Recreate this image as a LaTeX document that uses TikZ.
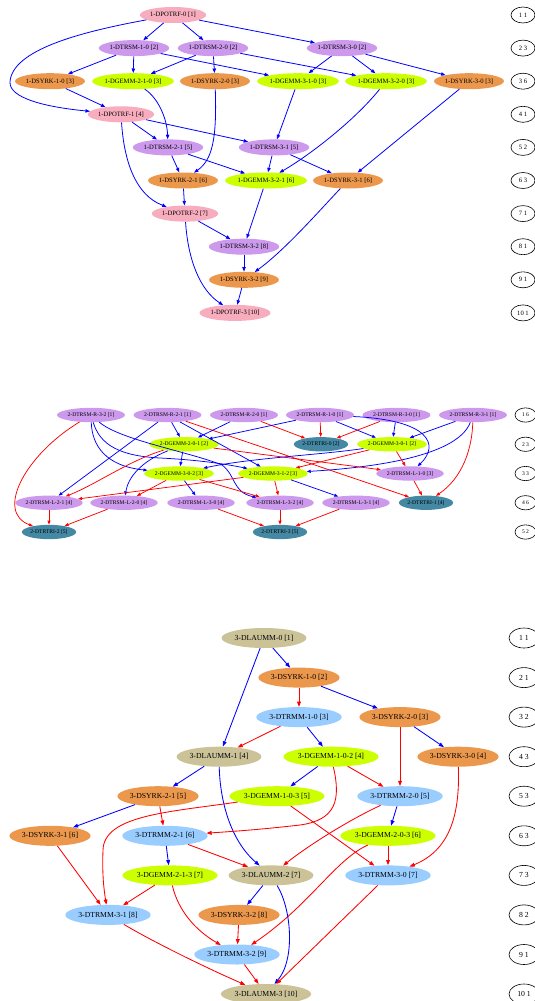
\documentclass[tikz,border=0pt]{standalone}
\usepackage{fontspec}
\setmainfont{Liberation Serif}
\usetikzlibrary{shapes.geometric,arrows.meta}
\definecolor{cpotrf}{RGB}{247,173,189}
\definecolor{ctrsm}{RGB}{204,153,236}
\definecolor{csyrk}{RGB}{236,152,76}
\definecolor{cgemm}{RGB}{204,255,0}
\definecolor{ctrtri}{RGB}{68,136,164}
\definecolor{ctrmm}{RGB}{153,204,255}
\definecolor{clauum}{RGB}{203,194,152}
\tikzset{
  task/.style={ellipse, inner xsep=0.6pt, inner ysep=0pt},
  ta/.style={task, minimum height=16pt, font=\fontsize{6.6}{7}\selectfont},
  tb/.style={task, minimum height=14.3pt, font=\fontsize{5.6}{6}\selectfont},
  tc/.style={task, minimum height=20pt, font=\fontsize{7.7}{8}\selectfont},
  potrf/.style={fill=cpotrf}, trsm/.style={fill=ctrsm}, syrk/.style={fill=csyrk},
  gemm/.style={fill=cgemm}, trtri/.style={fill=ctrtri}, trmm/.style={fill=ctrmm},
  lauum/.style={fill=clauum},
  rka/.style={ellipse, draw, line width=0.6pt, inner sep=0pt, minimum width=24pt, minimum height=16pt, font=\fontsize{6.6}{7}\selectfont},
  rkb/.style={ellipse, draw, line width=0.6pt, inner sep=0pt, minimum width=21pt, minimum height=14.3pt, font=\fontsize{5.6}{6}\selectfont},
  rkc/.style={ellipse, draw, line width=0.6pt, inner sep=0pt, minimum width=30pt, minimum height=20pt, font=\fontsize{7.7}{8}\selectfont},
  ea/.style={draw=blue, line width=0.8pt, -{Triangle[length=4.5pt,width=3.4pt]}},
  ebb/.style={draw=blue, line width=0.75pt, -{Triangle[length=4pt,width=3pt]}},
  ebr/.style={draw=red, line width=0.75pt, -{Triangle[length=4pt,width=3pt]}},
  ecb/.style={draw=blue, line width=0.85pt, -{Triangle[length=5.2pt,width=3.8pt]}},
  ecr/.style={draw=red, line width=0.85pt, -{Triangle[length=5.2pt,width=3.8pt]}}
}
\begin{document}
\begin{tikzpicture}[x=1pt,y=-1pt]
\useasboundingbox[fill=white] (0,0) rectangle (535,1001);

% ---------------- Cholesky factorisation (stage 1) ----------------
\node[ta,potrf] (aP0) at (173,15) {1-DPOTRF-0 [1]};
\node[ta,trsm] (aT10) at (134,48.1) {1-DTRSM-1-0 [2]};
\node[ta,trsm] (aT20) at (213,48.1) {1-DTRSM-2-0 [2]};
\node[ta,trsm] (aT30) at (342,48.1) {1-DTRSM-3-0 [2]};
\node[ta,syrk] (aS10) at (50,81.2) {1-DSYRK-1-0 [3]};
\node[ta,gemm] (aG210) at (133,81.2) {1-DGEMM-2-1-0 [3]};
\node[ta,syrk] (aS20) at (215,81.2) {1-DSYRK-2-0 [3]};
\node[ta,gemm] (aG310) at (298,81.2) {1-DGEMM-3-1-0 [3]};
\node[ta,gemm] (aG320) at (386,81.2) {1-DGEMM-3-2-0 [3]};
\node[ta,syrk] (aS30) at (469,81.2) {1-DSYRK-3-0 [3]};
\node[ta,potrf] (aP1) at (121,114.3) {1-DPOTRF-1 [4]};
\node[ta,trsm] (aT21) at (168,147.4) {1-DTRSM-2-1 [5]};
\node[ta,trsm] (aT31) at (274,147.4) {1-DTRSM-3-1 [5]};
\node[ta,syrk] (aS21) at (183,180.5) {1-DSYRK-2-1 [6]};
\node[ta,gemm] (aG321) at (266,180.5) {1-DGEMM-3-2-1 [6]};
\node[ta,syrk] (aS31) at (348,180.5) {1-DSYRK-3-1 [6]};
\node[ta,potrf] (aP2) at (185,213.6) {1-DPOTRF-2 [7]};
\node[ta,trsm] (aT32) at (244,246.7) {1-DTRSM-3-2 [8]};
\node[ta,syrk] (aS32) at (244,279.8) {1-DSYRK-3-2 [9]};
\node[ta,potrf] (aP3) at (235,312.9) {1-DPOTRF-3 [10]};

\node[rka] (ar1) at (523,15) {1 1};
\node[rka] (ar2) at (523,48.1) {2 3};
\node[rka] (ar3) at (523,81.2) {3 6};
\node[rka] (ar4) at (523,114.3) {4 1};
\node[rka] (ar5) at (523,147.4) {5 2};
\node[rka] (ar6) at (523,180.5) {6 3};
\node[rka] (ar7) at (523,213.6) {7 1};
\node[rka] (ar8) at (523,246.7) {8 1};
\node[rka] (ar9) at (523,279.8) {9 1};
\node[rka] (ar10) at (523,312.9) {10 1};

\draw[ea] (aP0) -- (aT10);
\draw[ea] (aP0) -- (aT20);
\draw[ea] (aP0) -- (aT30);
\draw[ea] (aP0) .. controls (80,32) and (12,50) .. (10,82) .. controls (9,98) and (45,107) .. (aP1);
\draw[ea] (aT10) -- (aS10);
\draw[ea] (aT10) -- (aG210);
\draw[ea] (aT10) -- (aG310);
\draw[ea] (aT20) -- (aG210);
\draw[ea] (aT20) -- (aS20);
\draw[ea] (aT20) -- (aG320);
\draw[ea] (aT30) -- (aG310);
\draw[ea] (aT30) -- (aG320);
\draw[ea] (aT30) -- (aS30);
\draw[ea] (aS10) -- (aP1);
\draw[ea] (aG210) .. controls (158,98) and (167,118) .. (aT21);
\draw[ea] (aS20) .. controls (217,140) and (212,160) .. (aS21);
\draw[ea] (aG310) -- (aT31);
\draw[ea] (aG320) .. controls (355,120) and (310,155) .. (aG321);
\draw[ea] (aS30) -- (aS31);
\draw[ea] (aP1) -- (aT21);
\draw[ea] (aP1) -- (aT31);
\draw[ea] (aP1) .. controls (124,160) and (135,195) .. (aP2);
\draw[ea] (aT21) -- (aS21);
\draw[ea] (aT21) -- (aG321);
\draw[ea] (aT31) -- (aG321);
\draw[ea] (aT31) -- (aS31);
\draw[ea] (aS21) -- (aP2);
\draw[ea] (aG321) -- (aT32);
\draw[ea] (aS31) .. controls (320,210) and (285,250) .. (aS32);
\draw[ea] (aP2) -- (aT32);
\draw[ea] (aP2) .. controls (188,260) and (200,290) .. (aP3);
\draw[ea] (aT32) -- (aS32);
\draw[ea] (aS32) -- (aP3);

% ---------------- Triangular inversion (stage 2) ----------------
\node[tb,trsm] (bR32) at (91,415) {2-DTRSM-R-3-2 [1]};
\node[tb,trsm] (bR21) at (167.5,415) {2-DTRSM-R-2-1 [1]};
\node[tb,trsm] (bR20) at (244,415) {2-DTRSM-R-2-0 [1]};
\node[tb,trsm] (bR10) at (320,415) {2-DTRSM-R-1-0 [1]};
\node[tb,trsm] (bR30) at (396.5,415) {2-DTRSM-R-3-0 [1]};
\node[tb,trsm] (bR31) at (473,415) {2-DTRSM-R-3-1 [1]};
\node[tb,gemm] (bG201) at (184,444.25) {2-DGEMM-2-0-1 [2]};
\node[tb,trtri] (bTRI0) at (321,444.25) {2-DTRTRI-0 [2]};
\node[tb,gemm] (bG301) at (392,444.25) {2-DGEMM-3-0-1 [2]};
\node[tb,gemm] (bG302) at (179,473.5) {2-DGEMM-3-0-2 [3]};
\node[tb,gemm] (bG312) at (273,473.5) {2-DGEMM-3-1-2 [3]};
\node[tb,trsm] (bL10) at (410,473.5) {2-DTRSM-L-1-0 [3]};
\node[tb,trsm] (bL21) at (49,502.75) {2-DTRSM-L-2-1 [4]};
\node[tb,trsm] (bL20) at (124,502.75) {2-DTRSM-L-2-0 [4]};
\node[tb,trsm] (bL30) at (201,502.75) {2-DTRSM-L-3-0 [4]};
\node[tb,trsm] (bL32) at (280,502.75) {2-DTRSM-L-3-2 [4]};
\node[tb,trsm] (bL31) at (356,502.75) {2-DTRSM-L-3-1 [4]};
\node[tb,trtri] (bTRI1) at (426,502.75) {2-DTRTRI-1 [4]};
\node[tb,trtri] (bTRI2) at (49,532) {2-DTRTRI-2 [5]};
\node[tb,trtri] (bTRI3) at (280,532) {2-DTRTRI-3 [5]};

\node[rkb] (br1) at (525.5,415) {1 6};
\node[rkb] (br2) at (525.5,444.25) {2 3};
\node[rkb] (br3) at (525.5,473.5) {3 3};
\node[rkb] (br4) at (525.5,502.75) {4 6};
\node[rkb] (br5) at (525.5,532) {5 2};

\draw[ebr] (bR32) .. controls (25,455) and (-5,512) .. (bTRI2);
\draw[ebb] (bR32) .. controls (92,445) and (105,466) .. (bG302);
\draw[ebb] (bR32) .. controls (100,445) and (120,456) .. (160,458) .. controls (200,460) and (225,464) .. (bG312);
\draw[ebb] (bR32) .. controls (120,440) and (190,452) .. (222,465) .. controls (236,475) and (232,492) .. (bL32);
\draw[ebb] (bR21) -- (bL21);
\draw[ebb] (bR21) -- (bG201);
\draw[ebb] (bR21) -- (bG312);
\draw[ebr] (bR21) -- (bTRI1);
\draw[ebb] (bR20) -- (bG201);
\draw[ebr] (bR20) -- (bTRI0);
\draw[ebb] (bR10) -- (bG201);
\draw[ebr] (bR10) -- (bTRI0);
\draw[ebb] (bR10) -- (bG301);
\draw[ebb] (bR10) .. controls (430,420) and (440,445) .. (bL10);
\draw[ebr] (bR30) -- (bTRI0);
\draw[ebb] (bR30) -- (bG301);
\draw[ebb] (bR31) -- (bG301);
\draw[ebb] (bR31) .. controls (460,450) and (400,466) .. (bG312);
\draw[ebr] (bR31) .. controls (472,450) and (462,478) .. (bTRI1);
\draw[ebb] (bG201) -- (bG302);
\draw[ebb] (bG201) .. controls (140,462) and (128,478) .. (bL20);
\draw[ebr] (bG201) .. controls (130,460) and (95,485) .. (bL21);
\draw[ebr] (bG201) -- (bL10);
\draw[ebb] (bG301) .. controls (320,455) and (250,458) .. (bG302);
\draw[ebr] (bG301) -- (bG312);
\draw[ebr] (bG301) -- (bL10);
\draw[ebr] (bG302) -- (bL20);
\draw[ebb] (bG302) -- (bL30);
\draw[ebr] (bG302) -- (bL32);
\draw[ebr] (bG312) -- (bL21);
\draw[ebr] (bG312) -- (bL32);
\draw[ebb] (bG312) -- (bL31);
\draw[ebr] (bL10) -- (bTRI1);
\draw[ebr] (bL21) -- (bTRI2);
\draw[ebr] (bL20) -- (bTRI2);
\draw[ebr] (bL30) -- (bTRI3);
\draw[ebr] (bL32) -- (bTRI3);
\draw[ebr] (bL31) -- (bTRI3);

% ---------------- Product L^T L (stage 3) ----------------
\node[tc,lauum] (cD0) at (264,638) {3-DLAUMM-0 [1]};
\node[tc,syrk] (cS10) at (299,677.6) {3-DSYRK-1-0 [2]};
\node[tc,trmm] (cTM10) at (299,717.1) {3-DTRMM-1-0 [3]};
\node[tc,syrk] (cS20) at (400,717.1) {3-DSYRK-2-0 [3]};
\node[tc,lauum] (cD1) at (219,756.7) {3-DLAUMM-1 [4]};
\node[tc,gemm] (cG102) at (331,756.7) {3-DGEMM-1-0-2 [4]};
\node[tc,syrk] (cS30) at (458,756.7) {3-DSYRK-3-0 [4]};
\node[tc,syrk] (cS21) at (158,796.2) {3-DSYRK-2-1 [5]};
\node[tc,gemm] (cG103) at (277,796.2) {3-DGEMM-1-0-3 [5]};
\node[tc,trmm] (cTM20) at (400,796.2) {3-DTRMM-2-0 [5]};
\node[tc,syrk] (cS31) at (50,835.8) {3-DSYRK-3-1 [6]};
\node[tc,trmm] (cTM21) at (165,835.8) {3-DTRMM-2-1 [6]};
\node[tc,gemm] (cG203) at (388,835.8) {3-DGEMM-2-0-3 [6]};
\node[tc,gemm] (cG213) at (170,875.4) {3-DGEMM-2-1-3 [7]};
\node[tc,lauum] (cD2) at (271,875.4) {3-DLAUMM-2 [7]};
\node[tc,trmm] (cTM30) at (388,875.4) {3-DTRMM-3-0 [7]};
\node[tc,trmm] (cTM31) at (108,914.9) {3-DTRMM-3-1 [8]};
\node[tc,syrk] (cS32) at (239,914.9) {3-DSYRK-3-2 [8]};
\node[tc,trmm] (cTM32) at (237,954.5) {3-DTRMM-3-2 [9]};
\node[tc,lauum] (cD3) at (266,994) {3-DLAUMM-3 [10]};

\node[rkc] (cr1) at (524,638) {1 1};
\node[rkc] (cr2) at (524,677.6) {2 1};
\node[rkc] (cr3) at (524,717.1) {3 2};
\node[rkc] (cr4) at (524,756.7) {4 3};
\node[rkc] (cr5) at (524,796.2) {5 3};
\node[rkc] (cr6) at (524,835.8) {6 3};
\node[rkc] (cr7) at (524,875.4) {7 3};
\node[rkc] (cr8) at (524,914.9) {8 2};
\node[rkc] (cr9) at (524,954.5) {9 1};
\node[rkc] (cr10) at (524,994) {10 1};

\draw[ecb] (cD0) -- (cS10);
\draw[ecb] (cD0) -- (cD1);
\draw[ecr] (cS10) -- (cTM10);
\draw[ecb] (cS10) -- (cS20);
\draw[ecr] (cTM10) -- (cD1);
\draw[ecb] (cTM10) -- (cG102);
\draw[ecr] (cS20) -- (cTM20);
\draw[ecb] (cS20) -- (cS30);
\draw[ecb] (cD1) -- (cS21);
\draw[ecb] (cD1) .. controls (220,800) and (230,840) .. (cD2);
\draw[ecb] (cG102) -- (cG103);
\draw[ecr] (cG102) -- (cTM20);
\draw[ecr] (cG102) .. controls (341,800) and (336,820) .. (300,825) .. controls (265,829) and (240,831) .. (cTM21);
\draw[ecr] (cS30) .. controls (460,815) and (450,850) .. (cTM30);
\draw[ecb] (cS21) -- (cS31);
\draw[ecr] (cS21) -- (cTM21);
\draw[ecr] (cG103) .. controls (170,812) and (104,815) .. (103,850) .. controls (102,875) and (104,890) .. (cTM31);
\draw[ecr] (cG103) -- (cTM30);
\draw[ecr] (cTM20) .. controls (345,822) and (305,848) .. (cD2);
\draw[ecb] (cTM20) -- (cG203);
\draw[ecr] (cS31) -- (cTM31);
\draw[ecb] (cTM21) -- (cG213);
\draw[ecr] (cTM21) -- (cD2);
\draw[ecr] (cG203) -- (cTM30);
\draw[ecr] (cG203) .. controls (335,860) and (310,905) .. (cTM32);
\draw[ecr] (cG213) -- (cTM31);
\draw[ecr] (cG213) .. controls (178,910) and (195,930) .. (cTM32);
\draw[ecb] (cD2) -- (cS32);
\draw[ecb] (cD2) .. controls (292,910) and (295,960) .. (cD3);
\draw[ecr] (cTM30) -- (cD3);
\draw[ecr] (cTM31) .. controls (150,940) and (200,965) .. (cD3);
\draw[ecr] (cS32) -- (cTM32);
\draw[ecr] (cTM32) -- (cD3);
\end{tikzpicture}
\end{document}
